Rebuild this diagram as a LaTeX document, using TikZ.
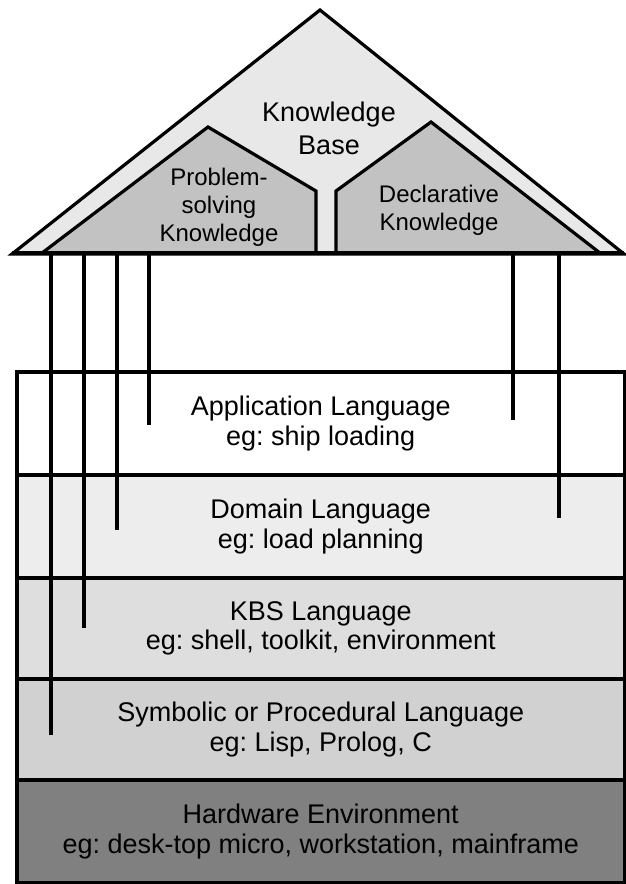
\documentclass[tikz,border=0pt]{standalone}
\usepackage{fontspec}
\setmainfont{Liberation Sans}
\frenchspacing

\begin{document}
\begin{tikzpicture}[
        x=0.5pt, y=-0.5pt,
        every node/.style={align=center, inner sep=0pt},
        layer/.style={draw, line width=1.6pt, minimum width=303.75pt, minimum height=#1,
            font=\fontsize{13.5}{14.8}\selectfont},
        room/.style={draw, line width=1.6pt, line join=miter, fill=black!24},
        post/.style={line width=1.6pt},
    ]
    \useasboundingbox (0,0) rectangle (626,884);

    % the roof and its two rooms
    \draw[line width=1.6pt, line join=miter, fill=black!9] (12,254) -- (320,10) -- (624,254) -- cycle;
    \draw[room] (42,253) -- (208,127) -- (316,191) -- (316,253) -- cycle;
    \draw[room] (336,253) -- (336,191) -- (431,122) -- (600,253) -- cycle;
    \draw[line width=1.6pt] (12,253) -- (624,253);
    \coordinate (eaves) at (0,253);

    \node[font=\fontsize{13.5}{16.5}\selectfont] (kb) at (329,128) {Knowledge\\Base};
    \node[font=\fontsize{12}{14}\selectfont] (psk) at (219,207) {Problem-\\solving\\Knowledge};
    \node[font=\fontsize{12}{14}\selectfont] (dk) at (439,210) {Declarative\\Knowledge};

    % the language layers
    \node[layer=51.5pt] (app) at (320.75,423.5) {Application Language\\eg: ship loading};
    \node[layer=51.5pt, fill=black!7] (dom) at (320.75,526.5) {Domain Language\\eg: load planning};
    \node[layer=50.5pt, fill=black!13] (kbs) at (320.75,628.5) {KBS Language\\eg: shell, toolkit, environment};
    \node[layer=50.5pt, fill=black!18] (sym) at (320.75,729.5) {Symbolic or Procedural Language\\eg: Lisp, Prolog, C};
    \node[layer=51.25pt, fill=black!50] (hw) at (320.75,831.25) {Hardware Environment\\eg: desk-top micro, workstation, mainframe};

    % posts from the eaves down into the layers
    \foreach \n/\x/\y in {p1/51/735, p2/84/628, p3/117/530, p4/149/425, p5/513/420, p6/559/518}
        \coordinate (\n) at (\x,\y);
    \foreach \n in {p1,p2,p3,p4,p5,p6}
        \draw[post] (\n |- eaves) -- (\n);
\end{tikzpicture}
\end{document}
